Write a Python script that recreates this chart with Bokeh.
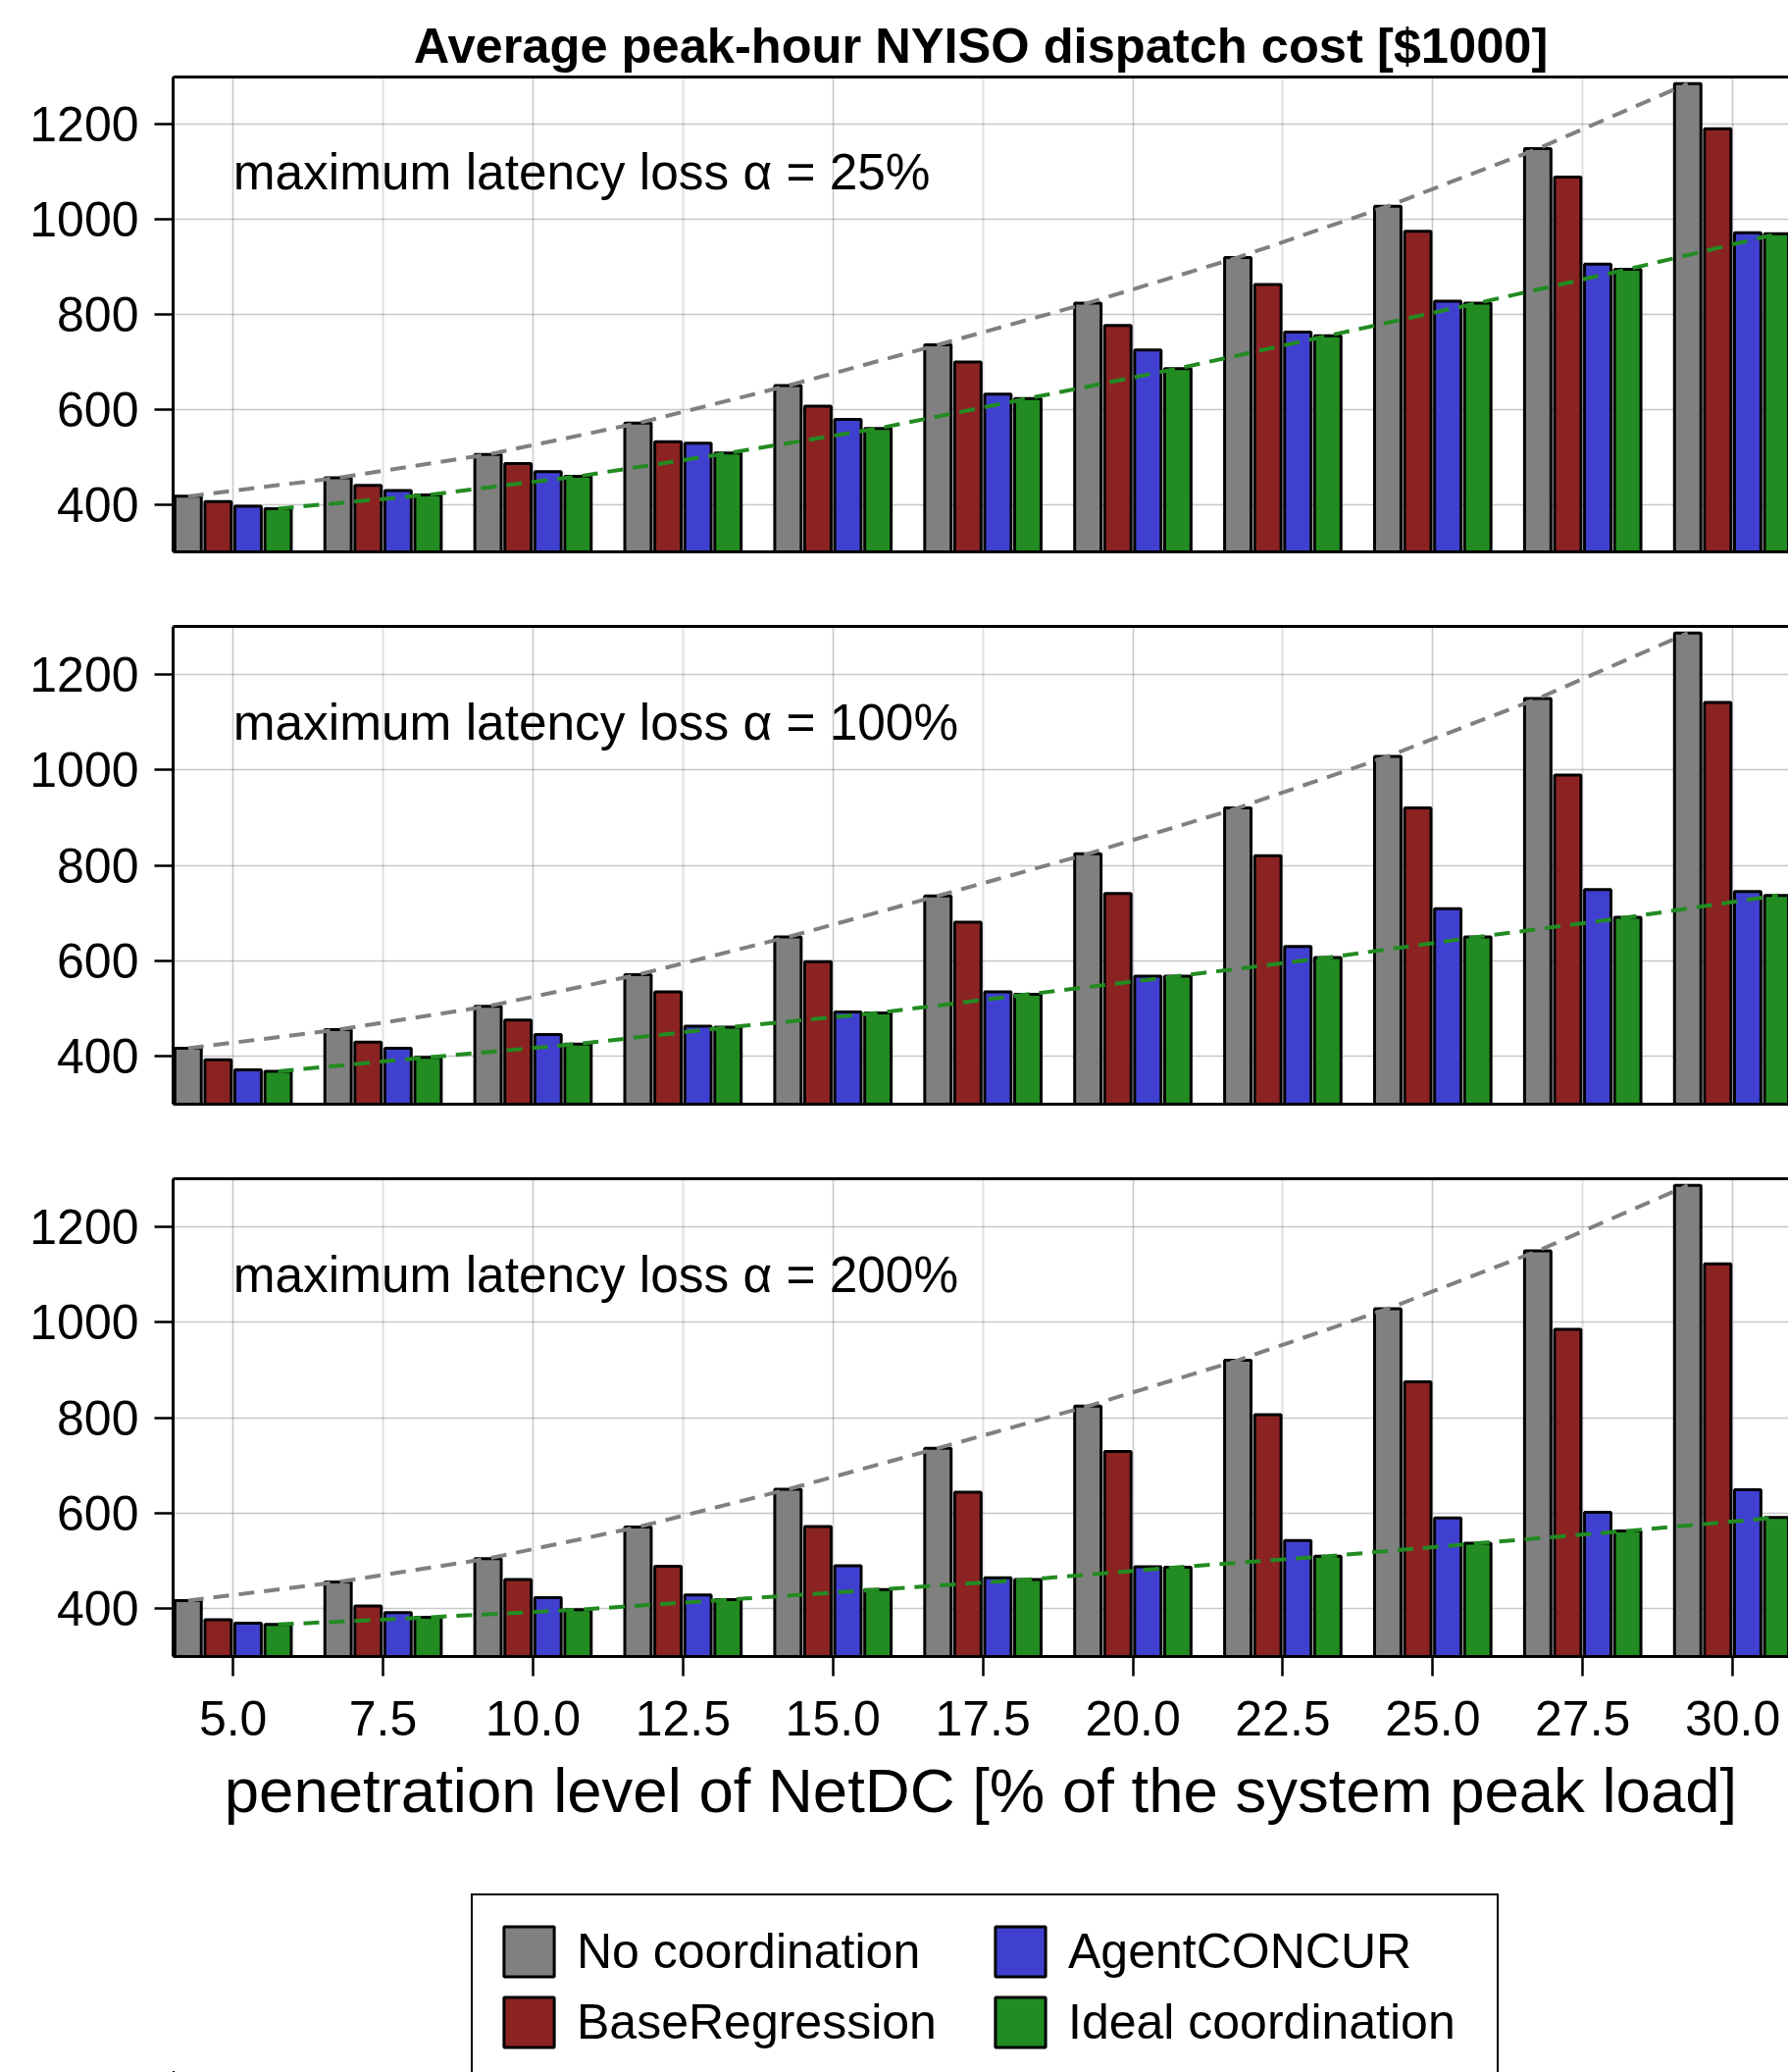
from bokeh.plotting import figure
from bokeh.models import (LinearAxis, FixedTicker, Grid, Range1d, ColumnDataSource,
                          Label, Legend, LegendItem)
from bokeh.transform import dodge
from bokeh.layouts import column
from bokeh.embed import file_html
from bokeh.resources import INLINE

FONT = "Liberation Sans"

# ---------------- data ----------------
PENETRATION = [5.0, 7.5, 10.0, 12.5, 15.0, 17.5, 20.0, 22.5, 25.0, 27.5, 30.0]
X_TICK_LABELS = ["5.0", "7.5", "10.0", "12.5", "15.0", "17.5", "20.0", "22.5", "25.0", "27.5", "30.0"]
Y_TICKS = [400, 600, 800, 1000, 1200]
SERIES = ["No coordination", "BaseRegression", "AgentCONCUR", "Ideal coordination"]
COLORS = ["#808080", "#8B2323", "#4040D0", "#228B22"]
ALPHA_LABELS = ["25%", "100%", "200%"]

NO_COORD = [417, 456, 505, 571, 650, 736, 824, 920, 1028, 1149, 1286]

BASE_25 = [406, 440, 486, 532, 607, 700, 777, 863, 975, 1089, 1191]
AGENT_25 = [396, 429, 469, 529, 579, 632, 725, 763, 828, 906, 972]
IDEAL_25 = [391, 420, 459, 508, 560, 623, 686, 755, 824, 895, 970]

BASE_100 = [393, 430, 476, 535, 598, 681, 741, 820, 920, 989, 1141]
AGENT_100 = [372, 417, 446, 463, 493, 535, 568, 630, 709, 749, 745]
IDEAL_100 = [369, 398, 426, 461, 491, 530, 568, 607, 650, 691, 737]

BASE_200 = [377, 406, 461, 489, 572, 644, 729, 806, 875, 985, 1122]
AGENT_200 = [370, 392, 423, 429, 490, 465, 488, 543, 590, 602, 649]
IDEAL_200 = [367, 382, 398, 419, 440, 461, 487, 510, 537, 563, 591]

PANELS = [
    (NO_COORD, BASE_25, AGENT_25, IDEAL_25),
    (NO_COORD, BASE_100, AGENT_100, IDEAL_100),
    (NO_COORD, BASE_200, AGENT_200, IDEAL_200),
]

TITLE = "Average peak-hour NYISO dispatch cost [$1000]"
X_LABEL = "penetration level of NetDC [% of the system peak load]"
ANNOT_X = 5.0
ANNOT_Y = 1100

OFFSETS = [-0.75, -0.25, 0.25, 0.75]
BAR_W = 0.44

# ---------------- layout ----------------
FIG_W = 1823
LEFT = 176
X_START, X_END = 4.0, 30.93
Y_START, Y_END = 300, 1300

HEIGHTS = [600, 563, 737]
TOPS = [78, 38, 38]
BOTTOMS = [38, 38, 212]
LEG_H = 212

figs = []
sources = []
for i, vals in enumerate(PANELS):
    p = figure(width=FIG_W, height=HEIGHTS[i], output_backend="svg", toolbar_location=None,
               x_range=Range1d(X_START, X_END), y_range=Range1d(Y_START, Y_END),
               x_axis_location=None, y_axis_location=None,
               min_border_left=LEFT, min_border_right=0,
               min_border_top=TOPS[i], min_border_bottom=BOTTOMS[i])
    p.outline_line_color = None
    p.background_fill_color = "white"
    p.border_fill_color = "white"

    src = ColumnDataSource(dict(x=PENETRATION, s0=vals[0], s1=vals[1], s2=vals[2], s3=vals[3]))
    sources.append(src)

    # grids
    p.add_layout(Grid(dimension=0, ticker=FixedTicker(ticks=PENETRATION),
                      grid_line_color="black", grid_line_alpha=0.12, grid_line_width=2))
    p.add_layout(Grid(dimension=1, ticker=FixedTicker(ticks=Y_TICKS),
                      grid_line_color="black", grid_line_alpha=0.12, grid_line_width=2))

    # left axis
    yax = LinearAxis(ticker=FixedTicker(ticks=Y_TICKS), major_tick_out=19, major_tick_in=0,
                     major_tick_line_width=2.5, minor_tick_line_color=None, axis_line_width=3,
                     major_label_text_font_size="50px", major_label_text_font=FONT,
                     major_label_text_color="black", major_label_standoff=16)
    p.add_layout(yax, "left")

    # top border line
    top_ax = LinearAxis(ticker=FixedTicker(ticks=[]), axis_line_width=3, major_tick_out=0,
                        major_tick_in=0, major_tick_line_color=None, minor_tick_line_color=None,
                        major_label_standoff=0)
    p.add_layout(top_ax, "above")

    if i == 2:
        xax = LinearAxis(ticker=FixedTicker(ticks=PENETRATION),
                         major_label_overrides={x: l for x, l in zip(PENETRATION, X_TICK_LABELS)},
                         major_tick_out=20, major_tick_in=0, major_tick_line_width=2.5,
                         minor_tick_line_color=None, axis_line_width=3,
                         major_label_text_font_size="50px", major_label_text_font=FONT,
                         major_label_text_color="black", major_label_standoff=25,
                         axis_label=X_LABEL, axis_label_text_font_size="63.5px",
                         axis_label_text_font=FONT, axis_label_text_font_style="normal",
                         axis_label_text_color="black", axis_label_standoff=18)
    else:
        xax = LinearAxis(ticker=FixedTicker(ticks=[]), axis_line_width=3, major_tick_out=0,
                         major_tick_in=0, major_tick_line_color=None, minor_tick_line_color=None,
                         major_label_standoff=0)
    p.add_layout(xax, "below")

    for k in range(4):
        p.vbar(x=dodge("x", OFFSETS[k], range=p.x_range), top="s%d" % k, bottom=0,
               width=BAR_W, source=src, fill_color=COLORS[k], line_color="black",
               line_width=3)

    p.line(x=dodge("x", OFFSETS[0], range=p.x_range), y="s0", source=src,
           line_color=COLORS[0], line_width=4, line_dash="16 10")
    p.line(x=dodge("x", OFFSETS[3], range=p.x_range), y="s3", source=src,
           line_color=COLORS[3], line_width=4, line_dash="16 10")

    p.add_layout(Label(x=ANNOT_X, y=ANNOT_Y, text="maximum latency loss \u03b1 = " + ALPHA_LABELS[i],
                       text_font=FONT, text_font_size="51.4px", text_baseline="middle",
                       text_align="left", text_color="black"))

    if i == 0:
        p.title.text = TITLE
        p.title.text_font = FONT
        p.title.text_font_size = "50.6px"
        p.title.text_font_style = "bold"
        p.title.text_color = "black"
        p.title.align = "center"
        p.title.vertical_align = "top"
        p.title.standoff = 3

    figs.append(p)

# ---------------- legend strip ----------------
# The strip's ranges lie beyond all data (right of it and above it), so the
# swatch-carrier bars (same data as the last panel) are not drawn on screen.
XSPAN = X_END - X_START
YSPAN = Y_END - Y_START
pl = figure(width=FIG_W, height=LEG_H, output_backend="svg", toolbar_location=None,
            x_range=Range1d(X_END + XSPAN, X_END + 2 * XSPAN),
            y_range=Range1d(Y_END + YSPAN, Y_END + 2 * YSPAN),
            x_axis_location=None, y_axis_location=None,
            min_border_left=0, min_border_right=0, min_border_top=0, min_border_bottom=0)
pl.outline_line_color = None
pl.grid.visible = False
pl.background_fill_color = "white"
pl.border_fill_color = "white"
swatches = [pl.vbar(x="x", top="s%d" % k, bottom=0, width=BAR_W, source=sources[2],
                    fill_color=COLORS[k], line_color="black", line_width=3) for k in range(4)]
items = [LegendItem(label=SERIES[k], renderers=[swatches[k]]) for k in range(4)]
leg = Legend(items=items, ncols=2, location=(304, -8), margin=0,
             padding=25, spacing=8, glyph_width=64, glyph_height=64, label_width=412,
             label_standoff=17, label_text_font=FONT, label_text_font_size="50px",
             label_text_color="black",
             border_line_color="black", border_line_width=2.5, border_line_alpha=1.0,
             background_fill_color="white", background_fill_alpha=1.0)
pl.add_layout(leg, "center")
figs.append(pl)

layout = column(*figs)
open("out.html", "w").write(file_html(layout, INLINE))
